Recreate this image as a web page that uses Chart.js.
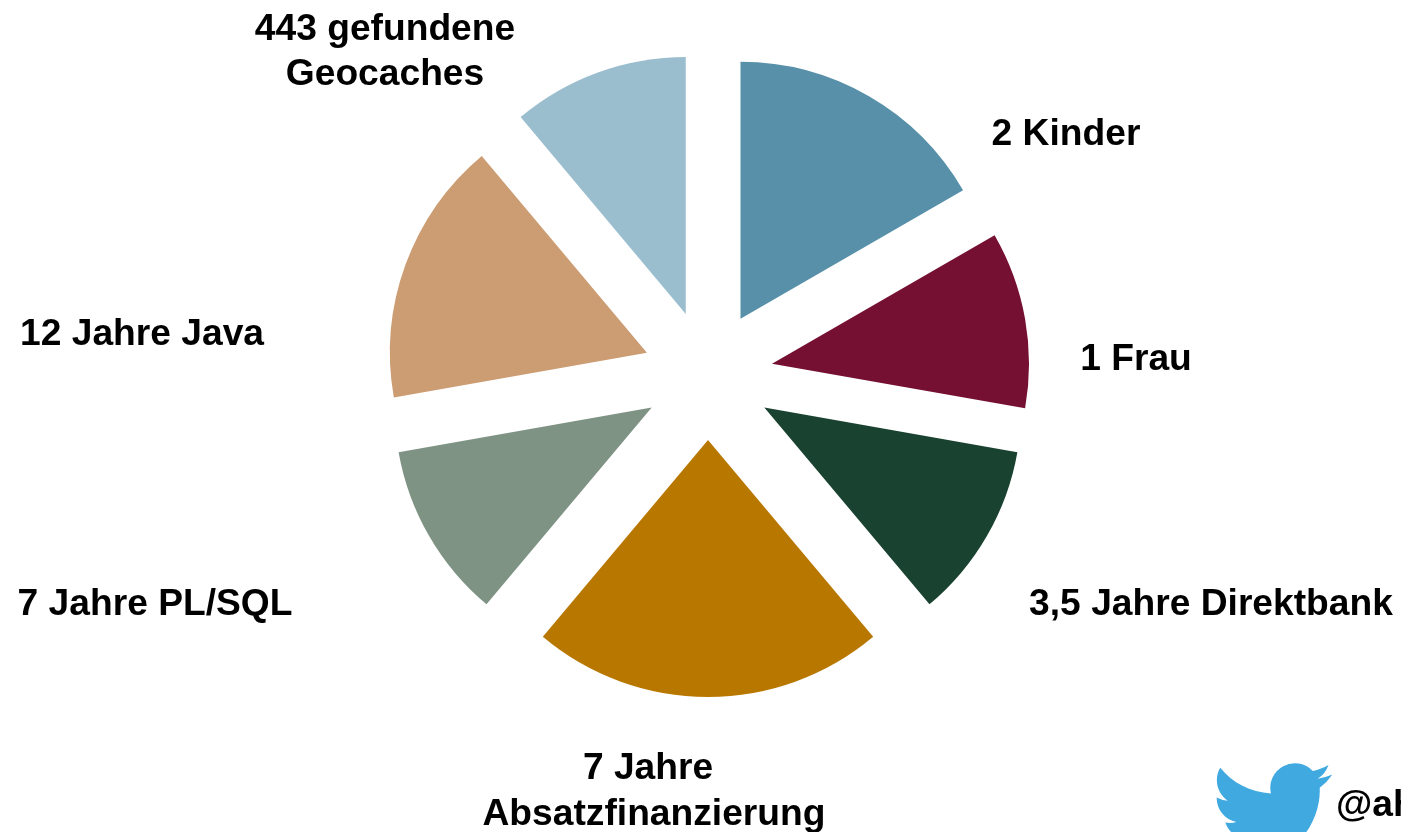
<!DOCTYPE html>
<html lang="de">
<head>
  <meta charset="UTF-8" />
  <title>Über mich</title>
  <script src="https://cdn.jsdelivr.net/npm/chart.js"></script>
  <style>
    html, body { margin: 0; padding: 0; background: #fff; overflow: hidden; }
    .wrap { position: relative; width: 1401px; height: 832px; overflow: hidden; }
    .bird { position: absolute; left: 1212px; top: 752px; width: 120px; height: 120px; }
  </style>
</head>
<body>
  <div class="wrap">
    <canvas id="pie"></canvas>
    <svg class="bird" viewBox="0 0 24 24"><path fill="#40a9e0" d="M23.953 4.57a10 10 0 01-2.825.775 4.958 4.958 0 002.163-2.723c-.951.555-2.005.959-3.127 1.184a4.92 4.92 0 00-8.384 4.482C7.69 8.095 4.067 6.13 1.64 3.162a4.822 4.822 0 00-.666 2.475c0 1.71.87 3.213 2.188 4.096a4.904 4.904 0 01-2.228-.616v.06a4.923 4.923 0 003.946 4.827 4.996 4.996 0 01-2.212.085 4.936 4.936 0 004.604 3.417 9.867 9.867 0 01-6.102 2.105c-.39 0-.779-.023-1.17-.067a13.995 13.995 0 007.557 2.209c9.053 0 13.998-7.496 13.998-13.985 0-.21 0-.42-.015-.63A9.935 9.935 0 0024 4.59z"/></svg>
  </div>

  <script>
    const labels = ['2 Kinder', '1 Frau', '3,5 Jahre Direktbank', '7 Jahre Absatzfinanzierung', '7 Jahre PL/SQL', '12 Jahre Java', '443 gefundene Geocaches'];
    const shares = [3, 2, 2, 4, 2, 3, 2];
    const colors = ['#5790a8', '#751033', '#1a4230', '#b87800', '#7f9385', '#cc9c72', '#9bbece'];

    // text blocks, centre x and baseline y per line
    const captions = [
      { lines: ['2 Kinder'], x: 1066, y: [145] },
      { lines: ['1 Frau'], x: 1136, y: [370] },
      { lines: ['3,5 Jahre Direktbank'], x: 1211, y: [615] },
      { lines: ['7 Jahre', 'Absatzfinanzierung'], x: 654, y: [779, 825], dx: [-6, 0] },
      { lines: ['7 Jahre PL/SQL'], x: 155, y: [615] },
      { lines: ['12 Jahre Java'], x: 142, y: [345] },
      { lines: ['443 gefundene', 'Geocaches'], x: 385, y: [40, 85] },
      { lines: ['@ah'], x: 1336, y: [816], left: true }
    ];

    const explode = 65; // px each slice is pulled out

    // the arc "offset" option also grows the radius of narrow slices, so move the arcs here instead
    const explodePlugin = {
      id: 'explode',
      afterDatasetsUpdate(chart) {
        chart.getDatasetMeta(0).data.forEach(arc => {
          const mid = (arc.startAngle + arc.endAngle) / 2;
          arc.x += Math.cos(mid) * explode;
          arc.y += Math.sin(mid) * explode;
        });
      }
    };

    const captionPlugin = {
      id: 'captions',
      afterDraw(chart) {
        const ctx = chart.ctx;
        ctx.save();
        ctx.font = 'bold 37.2px "Liberation Sans", Arial, sans-serif';
        ctx.fillStyle = '#000';
        ctx.textBaseline = 'alphabetic';
        captions.forEach(c => {
          ctx.textAlign = c.left ? 'left' : 'center';
          c.lines.forEach((line, i) => {
            ctx.fillText(line, c.x + (c.dx ? c.dx[i] : 0), c.y[i]);
          });
        });
        ctx.restore();
      }
    };

    new Chart(document.getElementById('pie'), {
      type: 'pie',
      data: {
        labels: labels,
        datasets: [{
          data: shares,
          backgroundColor: colors,
          borderWidth: 0
        }]
      },
      options: {
        responsive: true,
        maintainAspectRatio: false,
        animation: false,
        events: [],
        radius: 257,
        layout: { padding: { left: 15, bottom: 82 } },
        plugins: { legend: { display: false }, tooltip: { enabled: false } }
      },
      plugins: [explodePlugin, captionPlugin]
    });
  </script>
</body>
</html>
